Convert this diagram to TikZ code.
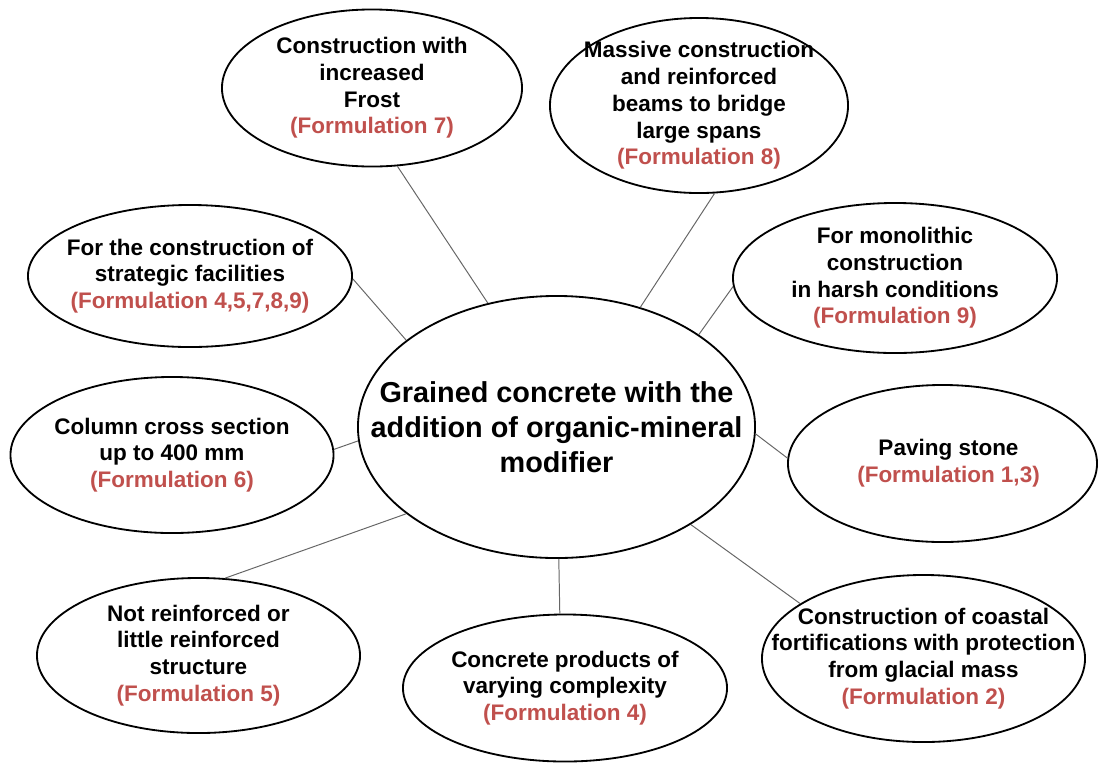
\documentclass[tikz,border=0pt]{standalone}
\usepackage{fontspec}
\setmainfont{Liberation Sans}
\usetikzlibrary{shapes.geometric}
\definecolor{formred}{RGB}{192,80,77}
\newcommand{\form}[1]{\textcolor{formred}{#1}}
\tikzset{
	bubble/.style={ellipse, draw, line width=1.3pt, inner sep=0pt},
	txt/.style={align=center, font=\fontsize{16}{19}\selectfont\bfseries},
	link/.style={draw=black!60, line width=0.7pt}
}

\begin{document}
\begin{tikzpicture}[x=0.025cm, y=-0.025cm]
			\useasboundingbox (0,0) rectangle (1099,765);
			% ellipses
			\node (0) [bubble, minimum width=9.925cm, minimum height=6.55cm] at (556.5,427) {};
			\node (1) [bubble, minimum width=7.5cm, minimum height=3.925cm] at (372,88) {};
			\node (2) [bubble, minimum width=7.45cm, minimum height=4.375cm] at (699,105.5) {};
			\node (3) [bubble, minimum width=8.1cm, minimum height=3.55cm] at (190,276) {};
			\node (4) [bubble, minimum width=8.1cm, minimum height=3.75cm] at (895,278) {};
			\node (5) [bubble, minimum width=8.075cm, minimum height=3.9cm] at (172,455) {};
			\node (6) [bubble, minimum width=7.725cm, minimum height=3.925cm] at (942.5,463.5) {};
			\node (7) [bubble, minimum width=8.075cm, minimum height=3.875cm] at (198.5,655.5) {};
			\node (8) [bubble, minimum width=8.1cm, minimum height=3.675cm] at (565,688) {};
			\node (9) [bubble, minimum width=8.075cm, minimum height=4.175cm] at (923.5,658.5) {};
			% texts
			\node (t0) [txt, font=\fontsize{20.5}{25}\selectfont\bfseries] at (0) {Grained concrete with the\\addition of organic-mineral\\modifier};
			\node (t1) [txt] at (1) {Construction with\\increased\\Frost\\\form{(Formulation 7)}};
			\node (t2) [txt] at (2) {Massive construction\\and reinforced\\beams to bridge\\large spans\\\form{(Formulation 8)}};
			\node (t3) [txt] at (3) {For the construction of\\strategic facilities\\\form{(Formulation 4,5,7,8,9)}};
			\node (t4) [txt] at (4) {For monolithic\\construction\\in harsh conditions\\\form{(Formulation 9)}};
			\node (t5) [txt] at (5) {Column cross section\\up to 400 mm\\\form{(Formulation 6)}};
			\node (t6) [txt, xshift=0.15cm] at (6) {Paving stone\\\form{(Formulation 1,3)}};
			\node (t7) [txt] at (7) {Not reinforced or\\little reinforced\\structure\\\form{(Formulation 5)}};
			\node (t8) [txt] at (8) {Concrete products of\\varying complexity\\\form{(Formulation 4)}};
			\node (t9) [txt] at (9) {Construction of coastal\\fortifications with protection\\from glacial mass\\\form{(Formulation 2)}};
			% links
			\path[link]
			(0.119) edge (1.288)
			(0.55) edge (2.280)
			(0.150) edge (3.359)
			(0.33) edge (4.183)
			(0.184) edge (5.2)
			(0.358) edge (6.178)
			(0.210) edge (7.71)
			(0.271.5) edge (8.94)
			(0.324) edge (9.156);
		\end{tikzpicture}
\end{document}
